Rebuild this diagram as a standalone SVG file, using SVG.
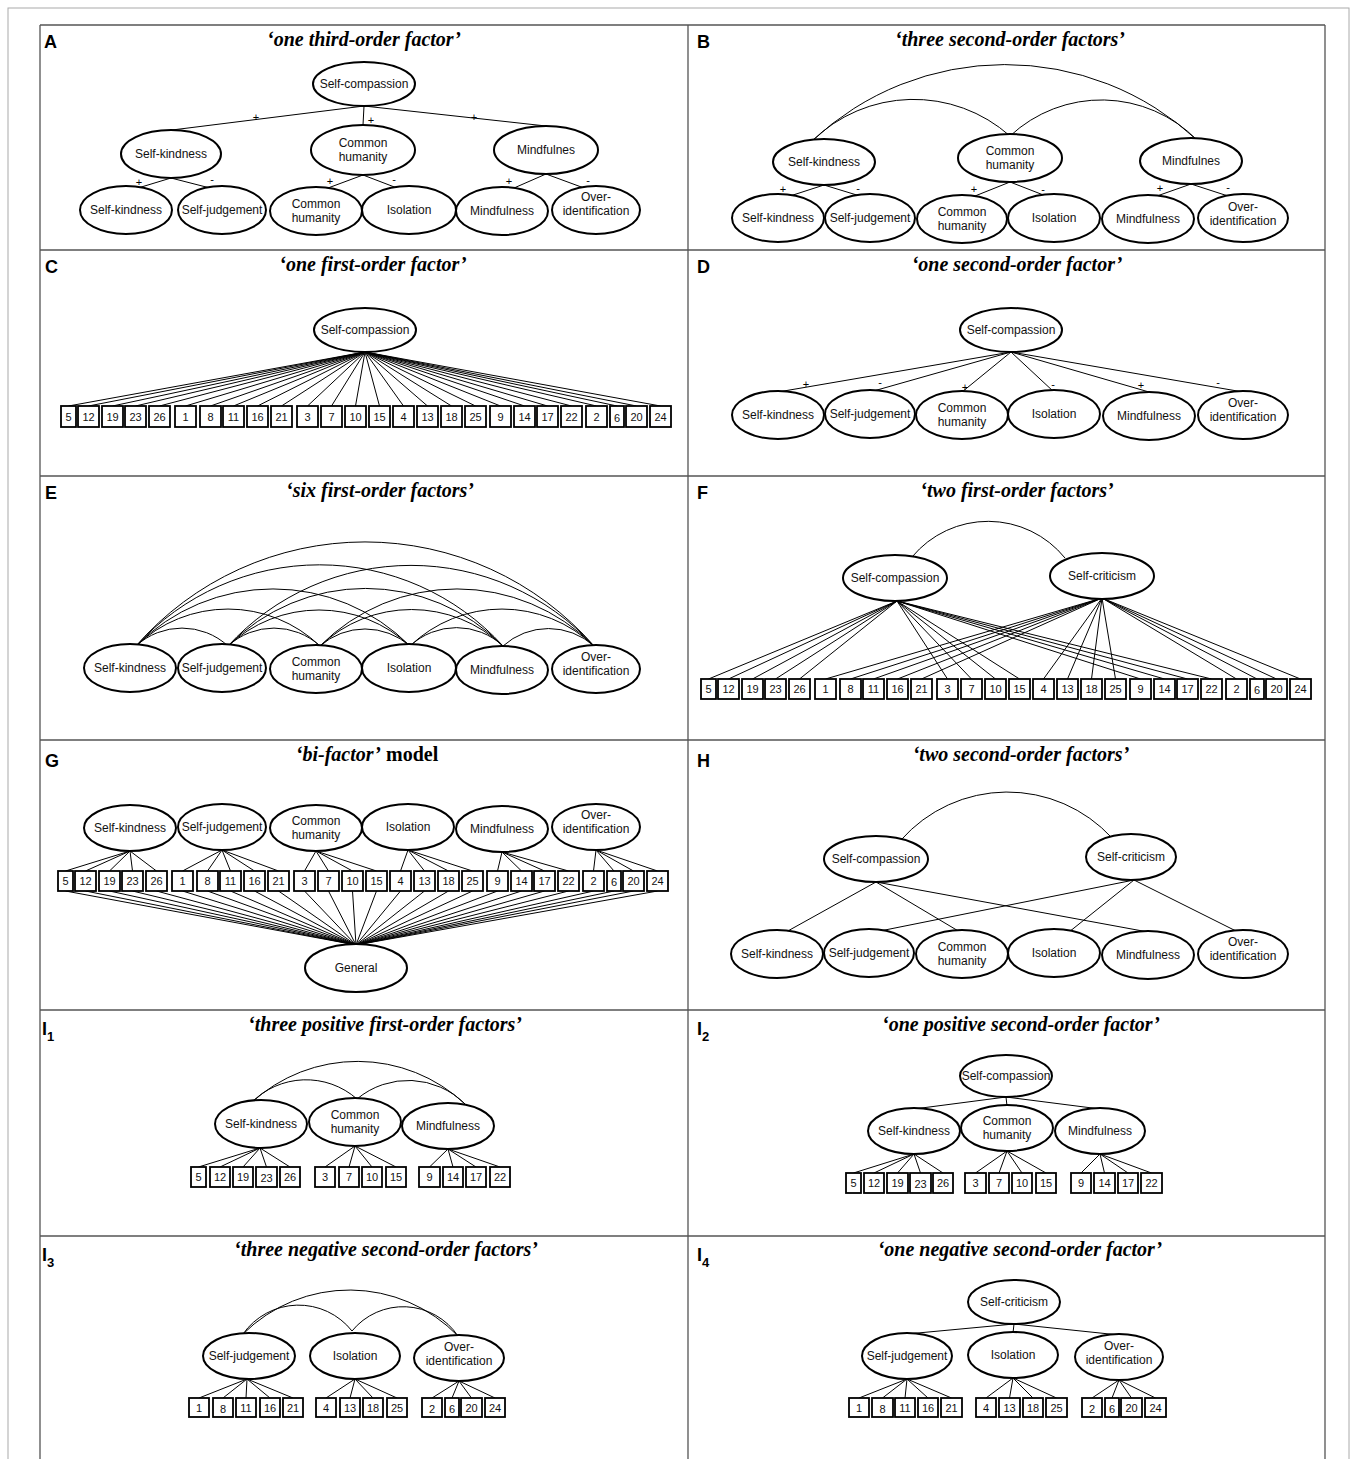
<svg xmlns="http://www.w3.org/2000/svg" width="1357" height="1459" viewBox="0 0 1357 1459">
<style>
.grid{stroke:#555;stroke-width:1.3;fill:none}
.frame{stroke:#aaa;stroke-width:1;fill:none}
.c{stroke:#000;stroke-width:1;fill:none}
.n ellipse{fill:#fff;stroke:#000;stroke-width:2}
.n text{font-family:"Liberation Sans",Arial,sans-serif;font-size:12px;text-anchor:middle;fill:#111}
.b rect{fill:#fff;stroke:#000;stroke-width:1.8}
.b text{font-family:"Liberation Sans",Arial,sans-serif;font-size:11px;text-anchor:middle;fill:#111}
.title{font-family:"Liberation Serif","Times New Roman",serif;font-weight:bold;font-style:italic;font-size:20px;text-anchor:middle}
.up{font-style:normal}
.lbl{font-family:"Liberation Sans",Arial,sans-serif;font-weight:bold;font-size:18px}
.sub{font-size:13px}
.sg{font-family:"Liberation Sans",Arial,sans-serif;font-size:11px;text-anchor:middle}
</style>
<rect width="1357" height="1459" fill="#fff"/>
<g id="grid">
<rect class="frame" x="8" y="8" width="1341" height="1460"/>
<path class="grid" d="M40,25H1325M40,250H1325M40,476H1325M40,740H1325M40,1010H1325M40,1236H1325M40,25V1459M688,25V1459M1325,25V1459"/>
</g>
<g id="titles">
<text class="lbl" x="44" y="48">A</text>
<text class="lbl" x="697" y="48">B</text>
<text class="lbl" x="45" y="273">C</text>
<text class="lbl" x="697" y="273">D</text>
<text class="lbl" x="45" y="499">E</text>
<text class="lbl" x="697" y="499">F</text>
<text class="lbl" x="45" y="767">G</text>
<text class="lbl" x="697" y="767">H</text>
<text class="lbl" x="42" y="1035">I<tspan class="sub" dy="6">1</tspan></text>
<text class="lbl" x="697" y="1035">I<tspan class="sub" dy="6">2</tspan></text>
<text class="lbl" x="42" y="1261">I<tspan class="sub" dy="6">3</tspan></text>
<text class="lbl" x="697" y="1261">I<tspan class="sub" dy="6">4</tspan></text>
<text class="title" x="364" y="46">‘one third-order factor’</text>
<text class="title" x="1010" y="46">‘three second-order factors’</text>
<text class="title" x="373" y="271">‘one first-order factor’</text>
<text class="title" x="1017" y="271">‘one second-order factor’</text>
<text class="title" x="380" y="497">‘six first-order factors’</text>
<text class="title" x="1017" y="497">‘two first-order factors’</text>
<text class="title" x="367" y="761">‘bi-factor’<tspan class="up"> model</tspan></text>
<text class="title" x="1021" y="761">‘two second-order factors’</text>
<text class="title" x="385" y="1031">‘three positive first-order factors’</text>
<text class="title" x="1021" y="1031">‘one positive second-order factor’</text>
<text class="title" x="386" y="1256">‘three negative second-order factors’</text>
<text class="title" x="1020" y="1256">‘one negative second-order factor’</text>
</g>
<g id="connectors" class="c">
<path d="M364,106L172,130M364,106L363,125M364,106L546,126M171,178L138,188M171,178L210,188M363,175L328,188M363,175L397,188M546,174L514,188M546,174L584,188"/>
<path d="M812,141A282,282 0 0 1 1197,140M812,141A145,145 0 0 1 1010,136M1010,136A134,134 0 0 1 1197,140"/>
<path d="M824,185L790,196M824,185L860,196M1010,182L975,196M1010,182L1046,196M1191,184L1157,196M1191,184L1228,196"/>
<path d="M365,352L68.5,406M365,352L88.5,406M365,352L112.5,406M365,352L135.5,406M365,352L159.5,406M365,352L185.5,406M365,352L210.5,406M365,352L233.5,406M365,352L257.5,406M365,352L281.5,406M365,352L307.5,406M365,352L331.5,406M365,352L355.5,406M365,352L379.5,406M365,352L403.5,406M365,352L427.5,406M365,352L451.5,406M365,352L475.5,406M365,352L500.5,406M365,352L524.5,406M365,352L547.5,406M365,352L571.5,406M365,352L596.5,406M365,352L617,406M365,352L636.5,406M365,352L660.5,406"/>
<path d="M1011,352L778,392M1011,352L870,392M1011,352L962,392M1011,352L1054,392M1011,352L1149,392M1011,352L1243,392"/>
<path d="M136,646A68,68 0 0 1 228,646M228,646A68,68 0 0 1 320,646M320,646A68,68 0 0 1 410,646M410,646A68,68 0 0 1 503,646M503,646A68,68 0 0 1 594,646M136,646A133,133 0 0 1 320,646M228,646A133,133 0 0 1 410,646M320,646A133,133 0 0 1 503,646M410,646A133,133 0 0 1 594,646M136,646A193,193 0 0 1 410,646M228,646A193,193 0 0 1 503,646M320,646A193,193 0 0 1 594,646M136,646A248,248 0 0 1 503,646M228,646A248,248 0 0 1 594,646M136,646A304,304 0 0 1 594,646"/>
<path d="M912,557A99,99 0 0 1 1065,558"/>
<path d="M897,601L708.5,679M897,601L728.5,679M897,601L752.5,679M897,601L775.5,679M897,601L799.5,679M897,601L947.5,679M897,601L971.5,679M897,601L995.5,679M897,601L1019.5,679M897,601L1140.5,679M897,601L1164.5,679M897,601L1187.5,679M897,601L1211.5,679"/>
<path d="M1102,598L825.5,679M1102,598L850.5,679M1102,598L873.5,679M1102,598L897.5,679M1102,598L921.5,679M1102,598L1043.5,679M1102,598L1067.5,679M1102,598L1091.5,679M1102,598L1115.5,679M1102,598L1236.5,679M1102,598L1257,679M1102,598L1276.5,679M1102,598L1300.5,679"/>
<path d="M130,851L65.5,871M130,851L85.5,871M130,851L109.5,871M130,851L132.5,871M130,851L156.5,871M222,850L182.5,871M222,850L207.5,871M222,850L230.5,871M222,850L254.5,871M222,850L278.5,871M316,851L304.5,871M316,851L328.5,871M316,851L352.5,871M316,851L376.5,871M408,850L400.5,871M408,850L424.5,871M408,850L448.5,871M408,850L472.5,871M502,852L497.5,871M502,852L521.5,871M502,852L544.5,871M502,852L568.5,871M596,850L593.5,871M596,850L614,871M596,850L633.5,871M596,850L657.5,871"/>
<path d="M356,945L65.5,891M356,945L85.5,891M356,945L109.5,891M356,945L132.5,891M356,945L156.5,891M356,945L182.5,891M356,945L207.5,891M356,945L230.5,891M356,945L254.5,891M356,945L278.5,891M356,945L304.5,891M356,945L328.5,891M356,945L352.5,891M356,945L376.5,891M356,945L400.5,891M356,945L424.5,891M356,945L448.5,891M356,945L472.5,891M356,945L497.5,891M356,945L521.5,891M356,945L544.5,891M356,945L568.5,891M356,945L593.5,891M356,945L614,891M356,945L633.5,891M356,945L657.5,891"/>
<path d="M901,840A142,142 0 0 1 1112,838"/>
<path d="M876,882L786,932M876,882L960,932M876,882L1148,932M1134,880L875,932M1134,880L1069,932M1134,880L1238,932"/>
<path d="M251,1103A157,157 0 0 1 465,1104M251,1103A77,77 0 0 1 357,1099M357,1099A80,80 0 0 1 465,1104"/>
<path d="M260,1148L198.5,1167M260,1148L220,1167M260,1148L243,1167M260,1148L266.5,1167M260,1148L290,1167M355,1146L325,1167M355,1146L349,1167M355,1146L372,1167M355,1146L396,1167M448,1149L429.5,1167M448,1149L453,1167M448,1149L476,1167M448,1149L500,1167"/>
<path d="M1006,1097L914,1109M1006,1097L1007,1106M1006,1097L1100,1109"/>
<path d="M914,1154L853.5,1173M914,1154L874,1173M914,1154L897.5,1173M914,1154L920.5,1173M914,1154L943,1173M1007,1151L975.5,1173M1007,1151L999,1173M1007,1151L1022,1173M1007,1151L1046,1173M1100,1154L1081,1173M1100,1154L1104.5,1173M1100,1154L1128,1173M1100,1154L1151.5,1173"/>
<path d="M243,1334A151,151 0 0 1 458,1336M243,1334A68,68 0 0 1 352,1331M352,1331A66,66 0 0 1 458,1336"/>
<path d="M247,1379L199,1398M247,1379L223,1398M247,1379L246,1398M247,1379L270,1398M247,1379L293,1398M355,1379L326,1398M355,1379L350,1398M355,1379L373,1398M355,1379L397,1398M459,1381L432,1398M459,1381L452,1398M459,1381L471.5,1398M459,1381L495,1398"/>
<path d="M1014,1324L907,1334M1014,1324L1013,1333M1014,1324L1119,1335"/>
<path d="M907,1379L859,1398M907,1379L882.5,1398M907,1379L905,1398M907,1379L928,1398M907,1379L951.5,1398M1013,1378L986,1398M1013,1378L1009.5,1398M1013,1378L1033,1398M1013,1378L1056.5,1398M1119,1380L1092,1398M1119,1380L1112,1398M1119,1380L1131.5,1398M1119,1380L1155.5,1398"/>
</g>
<g id="nodes" class="n">
<g id="A-self-compassion"><ellipse cx="364" cy="84" rx="51" ry="22"/><text x="364" y="88">Self-compassion</text></g>
<g id="A-self-kindness-2"><ellipse cx="171" cy="154" rx="50" ry="24"/><text x="171" y="158">Self-kindness</text></g>
<g id="A-common-humanity-2"><ellipse cx="363" cy="150" rx="52" ry="25"/><text x="363" y="147">Common</text><text x="363" y="161">humanity</text></g>
<g id="A-mindfulnes-2"><ellipse cx="546" cy="150" rx="52" ry="24"/><text x="546" y="154">Mindfulnes</text></g>
<g id="A-self-kindness"><ellipse cx="126" cy="210" rx="46" ry="24"/><text x="126" y="214">Self-kindness</text></g>
<g id="A-self-judgement"><ellipse cx="222" cy="210" rx="44" ry="24"/><text x="222" y="214">Self-judgement</text></g>
<g id="A-common-humanity"><ellipse cx="316" cy="211" rx="46" ry="24"/><text x="316" y="208">Common</text><text x="316" y="222">humanity</text></g>
<g id="A-isolation"><ellipse cx="409" cy="210" rx="47" ry="24"/><text x="409" y="214">Isolation</text></g>
<g id="A-mindfulness"><ellipse cx="502" cy="211" rx="46" ry="24"/><text x="502" y="215">Mindfulness</text></g>
<g id="A-over-identification"><ellipse cx="596" cy="210" rx="44" ry="24"/><text x="596" y="201">Over-</text><text x="596" y="215">identification</text></g>

<g id="B-self-kindness-2"><ellipse cx="824" cy="162" rx="51" ry="23"/><text x="824" y="166">Self-kindness</text></g>
<g id="B-common-humanity-2"><ellipse cx="1010" cy="158" rx="52" ry="24"/><text x="1010" y="155">Common</text><text x="1010" y="169">humanity</text></g>
<g id="B-mindfulnes-2"><ellipse cx="1191" cy="161" rx="51" ry="23"/><text x="1191" y="165">Mindfulnes</text></g>
<g id="B-self-kindness"><ellipse cx="778" cy="218" rx="46" ry="24"/><text x="778" y="222">Self-kindness</text></g>
<g id="B-self-judgement"><ellipse cx="870" cy="218" rx="45" ry="24"/><text x="870" y="222">Self-judgement</text></g>
<g id="B-common-humanity"><ellipse cx="962" cy="219" rx="45" ry="24"/><text x="962" y="216">Common</text><text x="962" y="230">humanity</text></g>
<g id="B-isolation"><ellipse cx="1054" cy="218" rx="46" ry="24"/><text x="1054" y="222">Isolation</text></g>
<g id="B-mindfulness"><ellipse cx="1148" cy="219" rx="46" ry="24"/><text x="1148" y="223">Mindfulness</text></g>
<g id="B-over-identification"><ellipse cx="1243" cy="218" rx="45" ry="24"/><text x="1243" y="211">Over-</text><text x="1243" y="225">identification</text></g>

<g id="C-self-compassion"><ellipse cx="365" cy="330" rx="51" ry="22"/><text x="365" y="334">Self-compassion</text></g>

<g id="D-self-compassion"><ellipse cx="1011" cy="330" rx="51" ry="22"/><text x="1011" y="334">Self-compassion</text></g>
<g id="D-self-kindness"><ellipse cx="778" cy="415" rx="46" ry="24"/><text x="778" y="419">Self-kindness</text></g>
<g id="D-self-judgement"><ellipse cx="870" cy="414" rx="45" ry="24"/><text x="870" y="418">Self-judgement</text></g>
<g id="D-common-humanity"><ellipse cx="962" cy="415" rx="46" ry="24"/><text x="962" y="412">Common</text><text x="962" y="426">humanity</text></g>
<g id="D-isolation"><ellipse cx="1054" cy="414" rx="46" ry="24"/><text x="1054" y="418">Isolation</text></g>
<g id="D-mindfulness"><ellipse cx="1149" cy="416" rx="46" ry="24"/><text x="1149" y="420">Mindfulness</text></g>
<g id="D-over-identification"><ellipse cx="1243" cy="415" rx="45" ry="24"/><text x="1243" y="407">Over-</text><text x="1243" y="421">identification</text></g>

<g id="E-self-kindness"><ellipse cx="130" cy="668" rx="46" ry="24"/><text x="130" y="672">Self-kindness</text></g>
<g id="E-self-judgement"><ellipse cx="222" cy="668" rx="44" ry="24"/><text x="222" y="672">Self-judgement</text></g>
<g id="E-common-humanity"><ellipse cx="316" cy="669" rx="46" ry="24"/><text x="316" y="666">Common</text><text x="316" y="680">humanity</text></g>
<g id="E-isolation"><ellipse cx="409" cy="668" rx="47" ry="24"/><text x="409" y="672">Isolation</text></g>
<g id="E-mindfulness"><ellipse cx="502" cy="670" rx="46" ry="24"/><text x="502" y="674">Mindfulness</text></g>
<g id="E-over-identification"><ellipse cx="596" cy="669" rx="44" ry="24"/><text x="596" y="661">Over-</text><text x="596" y="675">identification</text></g>

<g id="F-self-compassion"><ellipse cx="895" cy="578" rx="52" ry="23"/><text x="895" y="582">Self-compassion</text></g>
<g id="F-self-criticism"><ellipse cx="1102" cy="576" rx="52" ry="23"/><text x="1102" y="580">Self-criticism</text></g>

<g id="G-self-kindness"><ellipse cx="130" cy="828" rx="46" ry="23"/><text x="130" y="832">Self-kindness</text></g>
<g id="G-self-judgement"><ellipse cx="222" cy="827" rx="44" ry="23"/><text x="222" y="831">Self-judgement</text></g>
<g id="G-common-humanity"><ellipse cx="316" cy="828" rx="46" ry="23"/><text x="316" y="825">Common</text><text x="316" y="839">humanity</text></g>
<g id="G-isolation"><ellipse cx="408" cy="827" rx="46" ry="23"/><text x="408" y="831">Isolation</text></g>
<g id="G-mindfulness"><ellipse cx="502" cy="829" rx="46" ry="23"/><text x="502" y="833">Mindfulness</text></g>
<g id="G-over-identification"><ellipse cx="596" cy="827" rx="44" ry="23"/><text x="596" y="819">Over-</text><text x="596" y="833">identification</text></g>
<g id="G-general"><ellipse cx="356" cy="968" rx="51" ry="24"/><text x="356" y="972">General</text></g>

<g id="H-self-compassion"><ellipse cx="876" cy="859" rx="52" ry="23"/><text x="876" y="863">Self-compassion</text></g>
<g id="H-self-criticism"><ellipse cx="1131" cy="857" rx="45" ry="23"/><text x="1131" y="861">Self-criticism</text></g>
<g id="H-self-kindness"><ellipse cx="777" cy="954" rx="46" ry="24"/><text x="777" y="958">Self-kindness</text></g>
<g id="H-self-judgement"><ellipse cx="869" cy="953" rx="45" ry="24"/><text x="869" y="957">Self-judgement</text></g>
<g id="H-common-humanity"><ellipse cx="962" cy="954" rx="46" ry="24"/><text x="962" y="951">Common</text><text x="962" y="965">humanity</text></g>
<g id="H-isolation"><ellipse cx="1054" cy="953" rx="46" ry="24"/><text x="1054" y="957">Isolation</text></g>
<g id="H-mindfulness"><ellipse cx="1148" cy="955" rx="46" ry="24"/><text x="1148" y="959">Mindfulness</text></g>
<g id="H-over-identification"><ellipse cx="1243" cy="954" rx="45" ry="24"/><text x="1243" y="946">Over-</text><text x="1243" y="960">identification</text></g>

<g id="I1-self-kindness"><ellipse cx="261" cy="1124" rx="46" ry="24"/><text x="261" y="1128">Self-kindness</text></g>
<g id="I1-common-humanity"><ellipse cx="355" cy="1122" rx="46" ry="24"/><text x="355" y="1119">Common</text><text x="355" y="1133">humanity</text></g>
<g id="I1-mindfulness"><ellipse cx="448" cy="1126" rx="46" ry="23"/><text x="448" y="1130">Mindfulness</text></g>

<g id="I2-self-compassion"><ellipse cx="1006" cy="1076" rx="46" ry="21"/><text x="1006" y="1080">Self-compassion</text></g>
<g id="I2-self-kindness"><ellipse cx="914" cy="1131" rx="46" ry="23"/><text x="914" y="1135">Self-kindness</text></g>
<g id="I2-common-humanity"><ellipse cx="1007" cy="1128" rx="46" ry="23"/><text x="1007" y="1125">Common</text><text x="1007" y="1139">humanity</text></g>
<g id="I2-mindfulness"><ellipse cx="1100" cy="1131" rx="45" ry="23"/><text x="1100" y="1135">Mindfulness</text></g>

<g id="I3-self-judgement"><ellipse cx="249" cy="1356" rx="46" ry="23"/><text x="249" y="1360">Self-judgement</text></g>
<g id="I3-isolation"><ellipse cx="355" cy="1356" rx="45" ry="23"/><text x="355" y="1360">Isolation</text></g>
<g id="I3-over-identification"><ellipse cx="459" cy="1358" rx="45" ry="23"/><text x="459" y="1351">Over-</text><text x="459" y="1365">identification</text></g>

<g id="I4-self-criticism"><ellipse cx="1014" cy="1302" rx="46" ry="22"/><text x="1014" y="1306">Self-criticism</text></g>
<g id="I4-self-judgement"><ellipse cx="907" cy="1356" rx="45" ry="23"/><text x="907" y="1360">Self-judgement</text></g>
<g id="I4-isolation"><ellipse cx="1013" cy="1355" rx="45" ry="23"/><text x="1013" y="1359">Isolation</text></g>
<g id="I4-over-identification"><ellipse cx="1119" cy="1357" rx="44" ry="23"/><text x="1119" y="1350">Over-</text><text x="1119" y="1364">identification</text></g>
</g>
<g id="items" class="b">
<g id="C-i5"><rect x="61" y="406" width="15" height="21"/><text x="68.5" y="421">5</text></g>
<g id="C-i12"><rect x="78" y="406" width="21" height="21"/><text x="88.5" y="421">12</text></g>
<g id="C-i19"><rect x="102" y="406" width="21" height="21"/><text x="112.5" y="421">19</text></g>
<g id="C-i23"><rect x="125" y="406" width="21" height="21"/><text x="135.5" y="421">23</text></g>
<g id="C-i26"><rect x="149" y="406" width="21" height="21"/><text x="159.5" y="421">26</text></g>
<g id="C-i1"><rect x="175" y="406" width="21" height="21"/><text x="185.5" y="421">1</text></g>
<g id="C-i8"><rect x="200" y="406" width="21" height="21"/><text x="210.5" y="421">8</text></g>
<g id="C-i11"><rect x="223" y="406" width="21" height="21"/><text x="233.5" y="421">11</text></g>
<g id="C-i16"><rect x="247" y="406" width="21" height="21"/><text x="257.5" y="421">16</text></g>
<g id="C-i21"><rect x="271" y="406" width="21" height="21"/><text x="281.5" y="421">21</text></g>
<g id="C-i3"><rect x="297" y="406" width="21" height="21"/><text x="307.5" y="421">3</text></g>
<g id="C-i7"><rect x="321" y="406" width="21" height="21"/><text x="331.5" y="421">7</text></g>
<g id="C-i10"><rect x="345" y="406" width="21" height="21"/><text x="355.5" y="421">10</text></g>
<g id="C-i15"><rect x="369" y="406" width="21" height="21"/><text x="379.5" y="421">15</text></g>
<g id="C-i4"><rect x="393" y="406" width="21" height="21"/><text x="403.5" y="421">4</text></g>
<g id="C-i13"><rect x="417" y="406" width="21" height="21"/><text x="427.5" y="421">13</text></g>
<g id="C-i18"><rect x="441" y="406" width="21" height="21"/><text x="451.5" y="421">18</text></g>
<g id="C-i25"><rect x="465" y="406" width="21" height="21"/><text x="475.5" y="421">25</text></g>
<g id="C-i9"><rect x="490" y="406" width="21" height="21"/><text x="500.5" y="421">9</text></g>
<g id="C-i14"><rect x="514" y="406" width="21" height="21"/><text x="524.5" y="421">14</text></g>
<g id="C-i17"><rect x="537" y="406" width="21" height="21"/><text x="547.5" y="421">17</text></g>
<g id="C-i22"><rect x="561" y="406" width="21" height="21"/><text x="571.5" y="421">22</text></g>
<g id="C-i2"><rect x="586" y="406" width="21" height="21"/><text x="596.5" y="421">2</text></g>
<g id="C-i6"><rect x="610" y="406" width="14" height="21"/><text x="617" y="422">6</text></g>
<g id="C-i20"><rect x="626" y="406" width="21" height="21"/><text x="636.5" y="421">20</text></g>
<g id="C-i24"><rect x="650" y="406" width="21" height="21"/><text x="660.5" y="421">24</text></g>

<g id="F-i5"><rect x="701" y="679" width="15" height="20"/><text x="708.5" y="693">5</text></g>
<g id="F-i12"><rect x="718" y="679" width="21" height="20"/><text x="728.5" y="693">12</text></g>
<g id="F-i19"><rect x="742" y="679" width="21" height="20"/><text x="752.5" y="693">19</text></g>
<g id="F-i23"><rect x="765" y="679" width="21" height="20"/><text x="775.5" y="693">23</text></g>
<g id="F-i26"><rect x="789" y="679" width="21" height="20"/><text x="799.5" y="693">26</text></g>
<g id="F-i1"><rect x="815" y="679" width="21" height="20"/><text x="825.5" y="693">1</text></g>
<g id="F-i8"><rect x="840" y="679" width="21" height="20"/><text x="850.5" y="693">8</text></g>
<g id="F-i11"><rect x="863" y="679" width="21" height="20"/><text x="873.5" y="693">11</text></g>
<g id="F-i16"><rect x="887" y="679" width="21" height="20"/><text x="897.5" y="693">16</text></g>
<g id="F-i21"><rect x="911" y="679" width="21" height="20"/><text x="921.5" y="693">21</text></g>
<g id="F-i3"><rect x="937" y="679" width="21" height="20"/><text x="947.5" y="693">3</text></g>
<g id="F-i7"><rect x="961" y="679" width="21" height="20"/><text x="971.5" y="693">7</text></g>
<g id="F-i10"><rect x="985" y="679" width="21" height="20"/><text x="995.5" y="693">10</text></g>
<g id="F-i15"><rect x="1009" y="679" width="21" height="20"/><text x="1019.5" y="693">15</text></g>
<g id="F-i4"><rect x="1033" y="679" width="21" height="20"/><text x="1043.5" y="693">4</text></g>
<g id="F-i13"><rect x="1057" y="679" width="21" height="20"/><text x="1067.5" y="693">13</text></g>
<g id="F-i18"><rect x="1081" y="679" width="21" height="20"/><text x="1091.5" y="693">18</text></g>
<g id="F-i25"><rect x="1105" y="679" width="21" height="20"/><text x="1115.5" y="693">25</text></g>
<g id="F-i9"><rect x="1130" y="679" width="21" height="20"/><text x="1140.5" y="693">9</text></g>
<g id="F-i14"><rect x="1154" y="679" width="21" height="20"/><text x="1164.5" y="693">14</text></g>
<g id="F-i17"><rect x="1177" y="679" width="21" height="20"/><text x="1187.5" y="693">17</text></g>
<g id="F-i22"><rect x="1201" y="679" width="21" height="20"/><text x="1211.5" y="693">22</text></g>
<g id="F-i2"><rect x="1226" y="679" width="21" height="20"/><text x="1236.5" y="693">2</text></g>
<g id="F-i6"><rect x="1250" y="679" width="14" height="20"/><text x="1257" y="694">6</text></g>
<g id="F-i20"><rect x="1266" y="679" width="21" height="20"/><text x="1276.5" y="693">20</text></g>
<g id="F-i24"><rect x="1290" y="679" width="21" height="20"/><text x="1300.5" y="693">24</text></g>

<g id="G-i5"><rect x="58" y="871" width="15" height="20"/><text x="65.5" y="885">5</text></g>
<g id="G-i12"><rect x="75" y="871" width="21" height="20"/><text x="85.5" y="885">12</text></g>
<g id="G-i19"><rect x="99" y="871" width="21" height="20"/><text x="109.5" y="885">19</text></g>
<g id="G-i23"><rect x="122" y="871" width="21" height="20"/><text x="132.5" y="885">23</text></g>
<g id="G-i26"><rect x="146" y="871" width="21" height="20"/><text x="156.5" y="885">26</text></g>
<g id="G-i1"><rect x="172" y="871" width="21" height="20"/><text x="182.5" y="885">1</text></g>
<g id="G-i8"><rect x="197" y="871" width="21" height="20"/><text x="207.5" y="885">8</text></g>
<g id="G-i11"><rect x="220" y="871" width="21" height="20"/><text x="230.5" y="885">11</text></g>
<g id="G-i16"><rect x="244" y="871" width="21" height="20"/><text x="254.5" y="885">16</text></g>
<g id="G-i21"><rect x="268" y="871" width="21" height="20"/><text x="278.5" y="885">21</text></g>
<g id="G-i3"><rect x="294" y="871" width="21" height="20"/><text x="304.5" y="885">3</text></g>
<g id="G-i7"><rect x="318" y="871" width="21" height="20"/><text x="328.5" y="885">7</text></g>
<g id="G-i10"><rect x="342" y="871" width="21" height="20"/><text x="352.5" y="885">10</text></g>
<g id="G-i15"><rect x="366" y="871" width="21" height="20"/><text x="376.5" y="885">15</text></g>
<g id="G-i4"><rect x="390" y="871" width="21" height="20"/><text x="400.5" y="885">4</text></g>
<g id="G-i13"><rect x="414" y="871" width="21" height="20"/><text x="424.5" y="885">13</text></g>
<g id="G-i18"><rect x="438" y="871" width="21" height="20"/><text x="448.5" y="885">18</text></g>
<g id="G-i25"><rect x="462" y="871" width="21" height="20"/><text x="472.5" y="885">25</text></g>
<g id="G-i9"><rect x="487" y="871" width="21" height="20"/><text x="497.5" y="885">9</text></g>
<g id="G-i14"><rect x="511" y="871" width="21" height="20"/><text x="521.5" y="885">14</text></g>
<g id="G-i17"><rect x="534" y="871" width="21" height="20"/><text x="544.5" y="885">17</text></g>
<g id="G-i22"><rect x="558" y="871" width="21" height="20"/><text x="568.5" y="885">22</text></g>
<g id="G-i2"><rect x="583" y="871" width="21" height="20"/><text x="593.5" y="885">2</text></g>
<g id="G-i6"><rect x="607" y="871" width="14" height="20"/><text x="614" y="886">6</text></g>
<g id="G-i20"><rect x="623" y="871" width="21" height="20"/><text x="633.5" y="885">20</text></g>
<g id="G-i24"><rect x="647" y="871" width="21" height="20"/><text x="657.5" y="885">24</text></g>

<g id="I1-i5"><rect x="191" y="1167" width="15" height="20"/><text x="198.5" y="1181">5</text></g>
<g id="I1-i12"><rect x="210" y="1167" width="20" height="20"/><text x="220" y="1181">12</text></g>
<g id="I1-i19"><rect x="233" y="1167" width="20" height="20"/><text x="243" y="1181">19</text></g>
<g id="I1-i23"><rect x="256" y="1167" width="21" height="20"/><text x="266.5" y="1182">23</text></g>
<g id="I1-i26"><rect x="280" y="1167" width="20" height="20"/><text x="290" y="1181">26</text></g>
<g id="I1-i3"><rect x="315" y="1167" width="20" height="20"/><text x="325" y="1181">3</text></g>
<g id="I1-i7"><rect x="339" y="1167" width="20" height="20"/><text x="349" y="1181">7</text></g>
<g id="I1-i10"><rect x="362" y="1167" width="20" height="20"/><text x="372" y="1181">10</text></g>
<g id="I1-i15"><rect x="386" y="1167" width="20" height="20"/><text x="396" y="1181">15</text></g>
<g id="I1-i9"><rect x="419" y="1167" width="21" height="20"/><text x="429.5" y="1181">9</text></g>
<g id="I1-i14"><rect x="443" y="1167" width="20" height="20"/><text x="453" y="1181">14</text></g>
<g id="I1-i17"><rect x="466" y="1167" width="20" height="20"/><text x="476" y="1181">17</text></g>
<g id="I1-i22"><rect x="490" y="1167" width="20" height="20"/><text x="500" y="1181">22</text></g>

<g id="I2-i5"><rect x="846" y="1173" width="15" height="20"/><text x="853.5" y="1187">5</text></g>
<g id="I2-i12"><rect x="864" y="1173" width="20" height="20"/><text x="874" y="1187">12</text></g>
<g id="I2-i19"><rect x="887" y="1173" width="21" height="20"/><text x="897.5" y="1187">19</text></g>
<g id="I2-i23"><rect x="910" y="1173" width="21" height="20"/><text x="920.5" y="1188">23</text></g>
<g id="I2-i26"><rect x="933" y="1173" width="20" height="20"/><text x="943" y="1187">26</text></g>
<g id="I2-i3"><rect x="965" y="1173" width="21" height="20"/><text x="975.5" y="1187">3</text></g>
<g id="I2-i7"><rect x="989" y="1173" width="20" height="20"/><text x="999" y="1187">7</text></g>
<g id="I2-i10"><rect x="1012" y="1173" width="20" height="20"/><text x="1022" y="1187">10</text></g>
<g id="I2-i15"><rect x="1036" y="1173" width="20" height="20"/><text x="1046" y="1187">15</text></g>
<g id="I2-i9"><rect x="1071" y="1173" width="20" height="20"/><text x="1081" y="1187">9</text></g>
<g id="I2-i14"><rect x="1094" y="1173" width="21" height="20"/><text x="1104.5" y="1187">14</text></g>
<g id="I2-i17"><rect x="1118" y="1173" width="20" height="20"/><text x="1128" y="1187">17</text></g>
<g id="I2-i22"><rect x="1141" y="1173" width="21" height="20"/><text x="1151.5" y="1187">22</text></g>

<g id="I3-i1"><rect x="189" y="1398" width="20" height="19"/><text x="199" y="1412">1</text></g>
<g id="I3-i8"><rect x="213" y="1398" width="20" height="19"/><text x="223" y="1413">8</text></g>
<g id="I3-i11"><rect x="236" y="1398" width="20" height="19"/><text x="246" y="1412">11</text></g>
<g id="I3-i16"><rect x="260" y="1398" width="20" height="19"/><text x="270" y="1412">16</text></g>
<g id="I3-i21"><rect x="283" y="1398" width="20" height="19"/><text x="293" y="1412">21</text></g>
<g id="I3-i4"><rect x="316" y="1398" width="20" height="19"/><text x="326" y="1412">4</text></g>
<g id="I3-i13"><rect x="340" y="1398" width="20" height="19"/><text x="350" y="1412">13</text></g>
<g id="I3-i18"><rect x="363" y="1398" width="20" height="19"/><text x="373" y="1412">18</text></g>
<g id="I3-i25"><rect x="387" y="1398" width="20" height="19"/><text x="397" y="1412">25</text></g>
<g id="I3-i2"><rect x="422" y="1398" width="20" height="19"/><text x="432" y="1413">2</text></g>
<g id="I3-i6"><rect x="445" y="1398" width="14" height="19"/><text x="452" y="1413">6</text></g>
<g id="I3-i20"><rect x="461" y="1398" width="21" height="19"/><text x="471.5" y="1412">20</text></g>
<g id="I3-i24"><rect x="485" y="1398" width="20" height="19"/><text x="495" y="1412">24</text></g>

<g id="I4-i1"><rect x="849" y="1398" width="20" height="19"/><text x="859" y="1412">1</text></g>
<g id="I4-i8"><rect x="872" y="1398" width="21" height="19"/><text x="882.5" y="1413">8</text></g>
<g id="I4-i11"><rect x="895" y="1398" width="20" height="19"/><text x="905" y="1412">11</text></g>
<g id="I4-i16"><rect x="918" y="1398" width="20" height="19"/><text x="928" y="1412">16</text></g>
<g id="I4-i21"><rect x="941" y="1398" width="21" height="19"/><text x="951.5" y="1412">21</text></g>
<g id="I4-i4"><rect x="976" y="1398" width="20" height="19"/><text x="986" y="1412">4</text></g>
<g id="I4-i13"><rect x="999" y="1398" width="21" height="19"/><text x="1009.5" y="1412">13</text></g>
<g id="I4-i18"><rect x="1023" y="1398" width="20" height="19"/><text x="1033" y="1412">18</text></g>
<g id="I4-i25"><rect x="1046" y="1398" width="21" height="19"/><text x="1056.5" y="1412">25</text></g>
<g id="I4-i2"><rect x="1082" y="1398" width="20" height="19"/><text x="1092" y="1413">2</text></g>
<g id="I4-i6"><rect x="1105" y="1398" width="14" height="19"/><text x="1112" y="1413">6</text></g>
<g id="I4-i20"><rect x="1121" y="1398" width="21" height="19"/><text x="1131.5" y="1412">20</text></g>
<g id="I4-i24"><rect x="1145" y="1398" width="21" height="19"/><text x="1155.5" y="1412">24</text></g>
</g>
<g id="signs" class="sg">
<text x="256" y="121">+</text><text x="371" y="124">+</text><text x="474" y="121">+</text>
<text x="139" y="186">+</text><text x="212" y="183">-</text><text x="330" y="185">+</text><text x="394" y="183">-</text><text x="509" y="185">+</text><text x="588" y="184">-</text>
<text x="783" y="193">+</text><text x="858" y="192">-</text><text x="974" y="193">+</text><text x="1043" y="193">-</text><text x="1160" y="192">+</text><text x="1228" y="191">-</text>
<text x="806" y="388">+</text><text x="880" y="386">-</text><text x="965" y="391">+</text><text x="1053" y="388">-</text><text x="1141" y="389">+</text><text x="1218" y="386">-</text>
</g>
</svg>
